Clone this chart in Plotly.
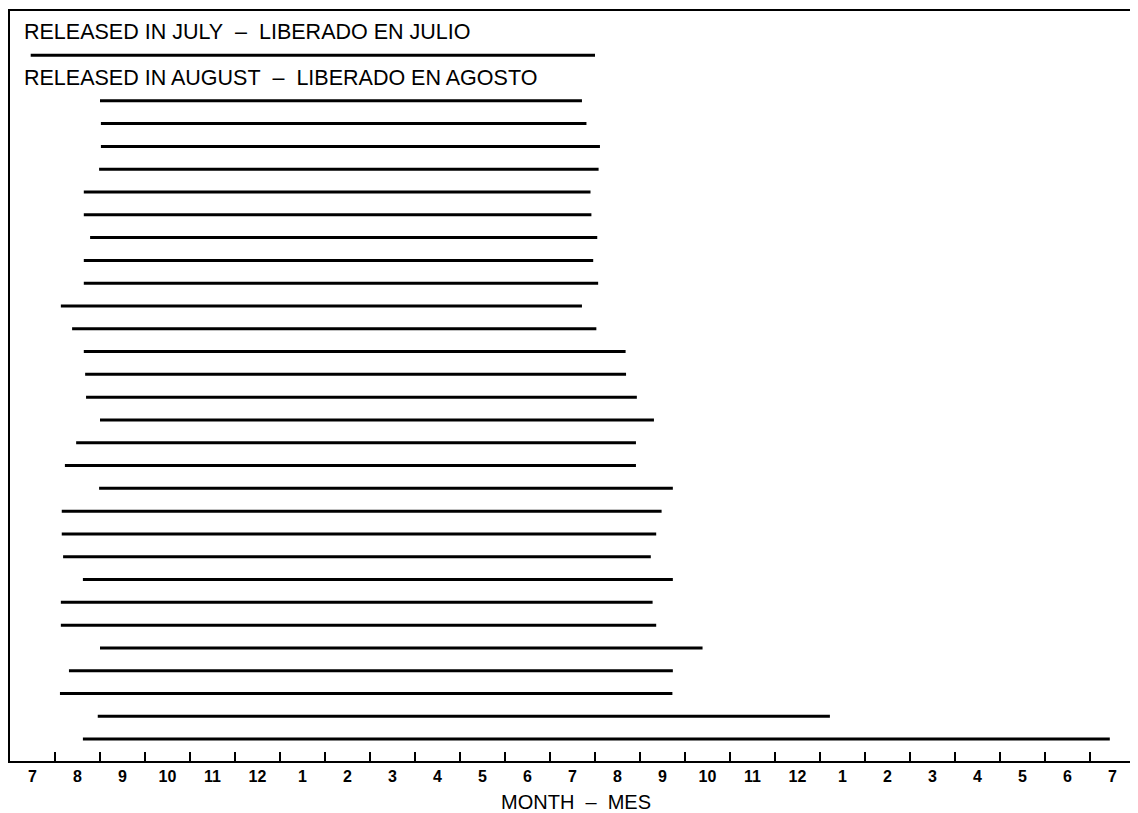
import plotly.graph_objects as go

# Month tick labels (centers of month intervals), from July to July
month_labels = ["7", "8", "9", "10", "11", "12", "1", "2", "3", "4", "5", "6",
                "7", "8", "9", "10", "11", "12", "1", "2", "3", "4", "5", "6", "7"]

# Survival periods in months elapsed since start of July (year 1)
july_start = [0.46]
july_end = [13.00]

august_start = [2.00, 2.02, 2.02, 1.98, 1.64, 1.64, 1.78, 1.64, 1.64, 1.13,
                1.38, 1.64, 1.67, 1.69, 2.00, 1.47, 1.22, 1.98, 1.15, 1.15,
                1.18, 1.62, 1.13, 1.13, 2.00, 1.31, 1.11, 1.95, 1.62]
august_end = [12.71, 12.81, 13.11, 13.08, 12.90, 12.92, 13.05, 12.96, 13.07, 12.71,
              13.03, 13.68, 13.69, 13.93, 14.31, 13.91, 13.91, 14.73, 14.48, 14.36,
              14.24, 14.73, 14.28, 14.36, 15.39, 14.73, 14.72, 18.22, 24.44]

SP = "\u00a0"
july_title = "RELEASED IN JULY" + SP * 2 + "\u2013" + SP * 2 + "LIBERADO EN JULIO"
august_title = "RELEASED IN AUGUST" + SP * 2 + "\u2013" + SP * 2 + "LIBERADO EN AGOSTO"
x_title = "MONTH" + SP * 2 + "\u2013" + SP * 2 + "MES"

# rows: July label -2, July line -1, August label 0, August lines 1..N
xs, ys = [], []
for s, e in zip(july_start, july_end):
    xs += [s, e, None]
    ys += [-1, -1, None]
for i, (s, e) in enumerate(zip(august_start, august_end)):
    r = i + 1
    xs += [s, e, None]
    ys += [r, r, None]

fig = go.Figure()
fig.add_trace(go.Scatter(x=xs, y=ys, mode="lines",
                         line=dict(color="black", width=3),
                         hoverinfo="skip", showlegend=False))

font_main = "Liberation Sans, Arial, sans-serif"

fig.add_annotation(x=0.27, y=-2, xref="x", yref="y", text=july_title,
                   showarrow=False, xanchor="left", yanchor="middle",
                   font=dict(family=font_main, size=21.5, color="black"))
fig.add_annotation(x=0.27, y=0, xref="x", yref="y", text=august_title,
                   showarrow=False, xanchor="left", yanchor="middle",
                   font=dict(family=font_main, size=21.5, color="black"))
fig.add_annotation(x=12.57, y=0, xref="x", yref="paper", text=x_title,
                   showarrow=False, xanchor="center", yanchor="middle",
                   yshift=-41,
                   font=dict(family=font_main, size=20, color="black"))

fig.update_layout(
    width=1130, height=805,
    margin=dict(l=2, r=2, t=1, b=52),
    plot_bgcolor="white", paper_bgcolor="white",
    xaxis=dict(range=[0, 25], showgrid=False, zeroline=False,
               showline=True, linecolor="black", linewidth=2, mirror=True,
               tickmode="array",
               tickvals=[i + 0.5 for i in range(len(month_labels))],
               ticktext=["<b>%s</b>" % m for m in month_labels],
               ticks="",
               tickfont=dict(family=font_main, size=16, color="black"),
               minor=dict(tickmode="array", tickvals=list(range(1, 25)),
                          ticks="inside", ticklen=9, tickwidth=1.5,
                          tickcolor="black", showgrid=False)),
    yaxis=dict(range=[29.96, -2.94], showgrid=False, zeroline=False,
               showline=True, linecolor="black", linewidth=2, mirror=True,
               showticklabels=False, ticks=""),
)

fig.write_html("out.html")
